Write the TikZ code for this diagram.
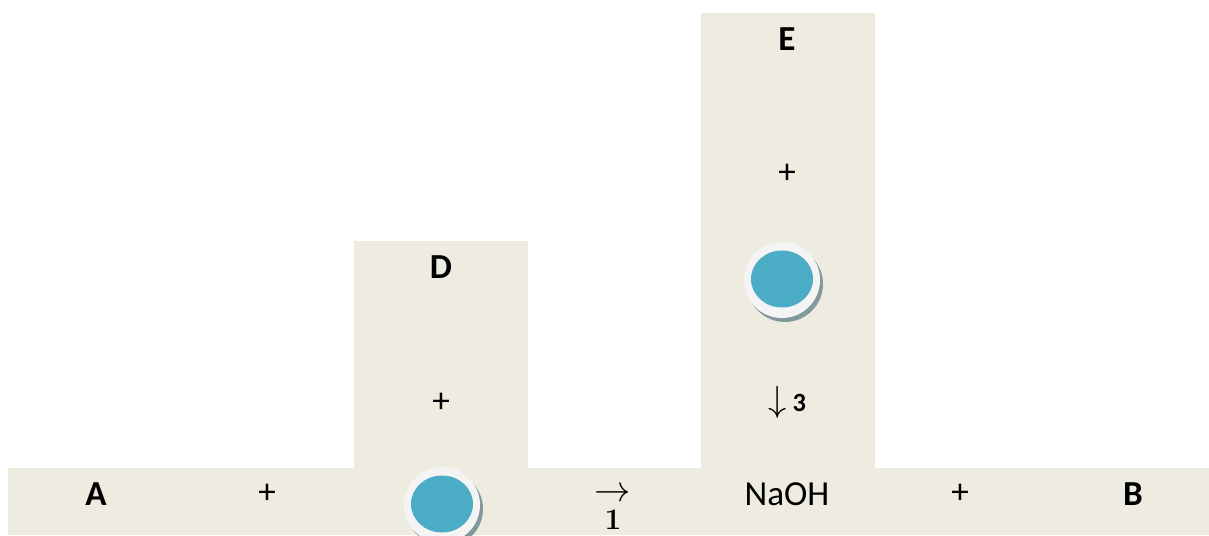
\documentclass[tikz,border=0pt]{standalone}
\usepackage[no-math]{fontspec}
\setmainfont{Carlito}
\usetikzlibrary{positioning}
\definecolor{Panel}{HTML}{EEECE1}
\definecolor{Drop}{HTML}{4BACC6}
\definecolor{Rim}{HTML}{F4F4F4}
\definecolor{Shade}{HTML}{82999C}

\tikzset{
  tag/.style={font=\fontsize{20}{24}\selectfont\bfseries},
  sym/.style={font=\fontsize{20}{24}\selectfont},
}

\begin{document}
\begin{tikzpicture}[x=0.02cm,y=0.02cm]
  \clip (0,0) rectangle (1209,535);
  \fill[white] (0,0) rectangle (1209,535);
  % equation strip and the two raised columns
  \fill[Panel] (8,0) rectangle (1209,67);
  \fill[Panel] (354,67) rectangle (528,294);
  \fill[Panel] (701,67) rectangle (875,522);

  % blue beads with a white rim
  \foreach \cx/\cy in {442/30,782/255} {
    \fill[Shade] (\cx+3,\cy-4) circle (38);
    \fill[Rim] (\cx,\cy) circle (38);
    \fill[Drop] (\cx,\cy+1) ellipse (31 and 28.5);
  }

  % bottom row
  \node[tag] (a) at (96,41) {A};
  \node[sym] (p1) at (267,41) {+};
  \node[sym] (arr) at (613,40) {$\rightarrow$};
  \node[font=\fontsize{17}{18}\fontfamily{lmr}\fontseries{bx}\selectfont, inner sep=1pt] (one) at (613,15) {1};
  \node[sym] (naoh) at (787,41) {NaOH};
  \node[sym] (p2) at (960,41) {+};
  \node[tag] (b) at (1133,41) {B};

  % column above the first bead
  \node[tag] (d) at (441,268) {D};
  \node[sym] (p3) at (441,132) {+};

  % column above NaOH
  \node[tag] (e) at (787,496) {E};
  \node[sym] (p4) at (787,361) {+};
  \node[font=\fontsize{21}{22}\selectfont] (down) at (787,133) {$\downarrow$\,{\fontsize{15}{17}\selectfont\bfseries 3}};
\end{tikzpicture}
\end{document}
